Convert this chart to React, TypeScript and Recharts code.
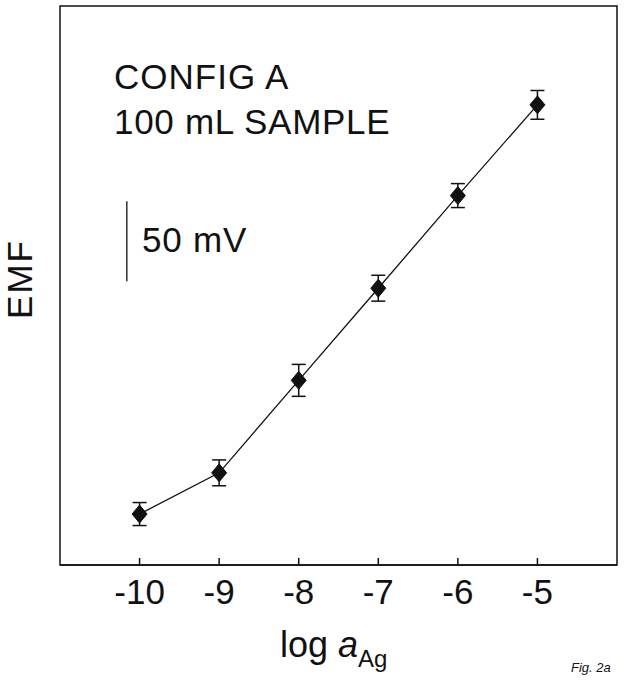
import React from 'react';
import { ComposedChart, Line, XAxis, YAxis, ErrorBar, ReferenceArea, ReferenceLine } from 'recharts';

const logActivity = [-10, -9, -8, -7, -6, -5];
const emfValues = [31.9, 57.7, 115.6, 173.3, 231.3, 288.1];
const emfErrors = [7.2, 8.1, 10, 8.1, 7.5, 9];
const xTicks = [-10, -9, -8, -7, -6, -5];
const scaleBar = [
  { x: -10.16, y: 177.7 },
  { x: -10.16, y: 227.7 },
];

const data = logActivity.map((x, i) => ({ x, emf: emfValues[i], err: emfErrors[i] }));

const FONT = '"Liberation Sans", Arial, Helvetica, sans-serif';

const Diamond = (props: any) => {
  const { cx, cy } = props;
  if (cx == null || cy == null) return null;
  const w = 7.5;
  const h = 9;
  return (
    <polygon
      points={`${cx},${cy - h} ${cx + w},${cy} ${cx},${cy + h} ${cx - w},${cy}`}
      fill="#111"
      stroke="#111"
      strokeWidth={1}
    />
  );
};

const Tick = (props: any) => {
  const { x, payload } = props;
  return (
    <text x={x} y={604} textAnchor="middle" fontSize={35} fontFamily={FONT} fill="#111">
      {payload.value}
    </text>
  );
};

export default function App() {
  return (
    <div style={{ position: 'absolute', left: 0, top: 0, width: 624, height: 681, background: '#fff' }}>
      <ComposedChart
        width={624}
        height={681}
        data={data}
        margin={{ top: 6, right: 7, left: 60, bottom: 0 }}
      >
        <XAxis
          dataKey="x"
          type="number"
          domain={[-11, -4]}
          ticks={xTicks}
          height={116}
          axisLine={{ stroke: '#111', strokeWidth: 1.5 }}
          tickLine={{ stroke: '#111', strokeWidth: 1.5 }}
          tickSize={-7}
          tick={<Tick />}
          allowDataOverflow
        />
        <YAxis type="number" domain={[0, 350]} hide width={0} allowDataOverflow />
        <ReferenceArea
          x1={-11}
          x2={-4}
          y1={0}
          y2={350}
          fill="none"
          fillOpacity={0}
          stroke="#111"
          strokeWidth={1.5}
        />
        <ReferenceLine segment={scaleBar} stroke="#111" strokeWidth={1.3} />
        <Line
          dataKey="emf"
          stroke="#111"
          strokeWidth={1.3}
          dot={<Diamond />}
          activeDot={false}
          isAnimationActive={false}
        >
          <ErrorBar dataKey="err" width={7} stroke="#111" strokeWidth={1.5} direction="y" />
        </Line>
      </ComposedChart>
      <svg
        width={624}
        height={681}
        style={{ position: 'absolute', left: 0, top: 0, pointerEvents: 'none' }}
      >
        <g fontFamily={FONT} fill="#111">
          <text x={114} y={89} fontSize={35} letterSpacing={1}>CONFIG A</text>
          <text x={114} y={134} fontSize={35} letterSpacing={0.7}>100 mL SAMPLE</text>
          <text x={142} y={252} fontSize={35} letterSpacing={0.8}>50 mV</text>
          <text x={32} y={279} fontSize={35} letterSpacing={2} textAnchor="middle" transform="rotate(-90 32 279)">EMF</text>
          <text x={280} y={657} fontSize={36}>
            log <tspan fontStyle="italic">a</tspan>
            <tspan fontSize={24} dy={10}>Ag</tspan>
          </text>
          <text x={571} y={672} fontSize={13} fontStyle="italic">Fig. 2a</text>
        </g>
      </svg>
    </div>
  );
}
